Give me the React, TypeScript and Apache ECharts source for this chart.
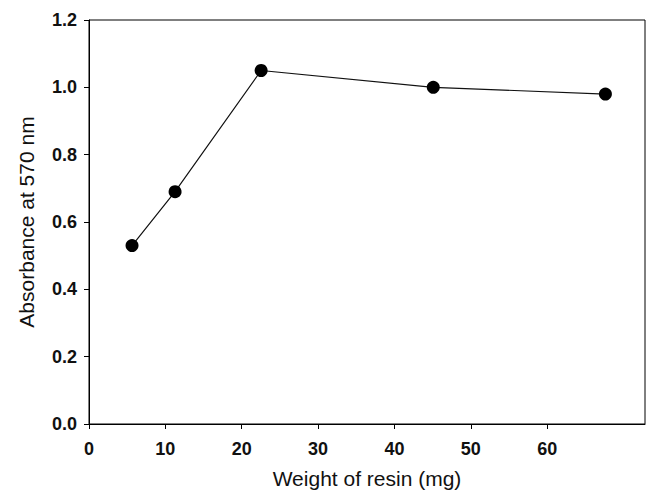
import React, { useEffect, useRef } from "react";
import * as echarts from "echarts";

const resinWeight = [5, 10, 20, 40, 60];
const absorbance = [0.53, 0.69, 1.05, 1.0, 0.98];
const xTickLabels = [0, 10, 20, 30, 40, 50, 60];

export default function App() {
  const ref = useRef<HTMLDivElement>(null);
  useEffect(() => {
    if (!ref.current) return;
    const chart = echarts.init(ref.current, null, { renderer: "svg" });
    const font = "'Liberation Sans', Arial, sans-serif";
    chart.setOption({
      animation: false,
      backgroundColor: "#ffffff",
      grid: {
        left: 89,
        right: 1,
        top: 20,
        bottom: 66,
        outerBoundsMode: "none",
        containLabel: false,
        show: true,
        borderColor: "#000",
        borderWidth: 1,
        backgroundColor: "transparent",
      },
      xAxis: [
        {
          type: "value",
          min: 0,
          max: 64.6,
          show: false,
        },
        {
          type: "value",
          position: "bottom",
          min: 0,
          max: 72.8,
          name: "Weight of resin (mg)",
          nameLocation: "middle",
          nameGap: 44,
          nameTextStyle: { fontFamily: font, fontSize: 21, color: "#111" },
          axisLine: { show: true, onZero: false, lineStyle: { color: "#000", width: 1 } },
          axisTick: {
            show: true,
            length: 5,
            lineStyle: { color: "#000" },
            customValues: xTickLabels,
          },
          axisLabel: {
            customValues: xTickLabels,
            fontFamily: font,
            fontSize: 18,
            fontWeight: "bold",
            color: "#111",
            margin: 16,
          },
          splitLine: { show: false },
        },
      ],
      yAxis: {
        type: "value",
        min: 0,
        max: 1.2,
        interval: 0.2,
        name: "Absorbance at 570 nm",
        nameLocation: "middle",
        nameGap: 52,
        nameRotate: 90,
        nameTextStyle: { fontFamily: font, fontSize: 21, color: "#111" },
        axisLine: { show: true, lineStyle: { color: "#000", width: 1 } },
        axisTick: { show: true, length: 5, lineStyle: { color: "#000" } },
        axisLabel: {
          fontFamily: font,
          fontSize: 18,
          fontWeight: "bold",
          color: "#111",
          margin: 12,
          formatter: (v: number) => v.toFixed(1),
        },
        splitLine: { show: false },
      },
      series: [
        {
          type: "line",
          xAxisIndex: 0,
          data: resinWeight.map((x, i) => [x, absorbance[i]]),
          symbol: "circle",
          symbolSize: 13,
          itemStyle: { color: "#000" },
          lineStyle: { color: "#111", width: 1.2 },
        },
      ],
    });
    return () => chart.dispose();
  }, []);
  return <div ref={ref} style={{ width: 646, height: 490, position: "absolute", left: 0, top: 0 }} />;
}
